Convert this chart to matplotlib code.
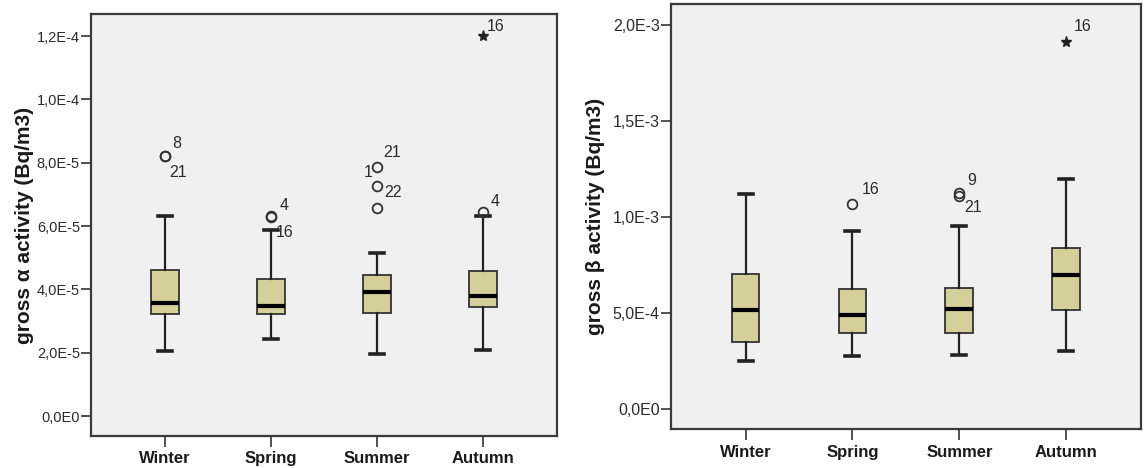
import matplotlib
matplotlib.use("Agg")
import matplotlib.pyplot as plt

plt.rcParams['font.family'] = ['Liberation Sans', 'DejaVu Sans']

# Data
seasons = ["Winter", "Spring", "Summer", "Autumn"]

# gross alpha activity (Bq/m3)
alpha_whislo = [2.04e-5, 2.43e-5, 1.97e-5, 2.10e-5]
alpha_q1 = [3.23e-5, 3.23e-5, 3.25e-5, 3.44e-5]
alpha_med = [3.56e-5, 3.48e-5, 3.91e-5, 3.79e-5]
alpha_q3 = [4.61e-5, 4.32e-5, 4.45e-5, 4.59e-5]
alpha_whishi = [6.31e-5, 5.87e-5, 5.14e-5, 6.31e-5]
alpha_outliers = [[8.23e-5, 8.21e-5], [6.31e-5, 6.28e-5], [7.86e-5, 7.27e-5, 6.58e-5], [6.44e-5]]
alpha_extremes = [[], [], [], [1.20e-4]]
alpha_labels = [(1, 8.23e-5, "8"), (1, 8.23e-5, "21"), (2, 6.31e-5, "4"), (2, 6.31e-5, "16"),
                (3, 7.86e-5, "1"), (3, 7.86e-5, "21"), (3, 7.27e-5, "22"), (4, 6.44e-5, "4"),
                (4, 1.20e-4, "16")]

# gross beta activity (Bq/m3)
beta_whislo = [2.53e-4, 2.78e-4, 2.81e-4, 3.02e-4]
beta_q1 = [3.51e-4, 3.98e-4, 3.98e-4, 5.15e-4]
beta_med = [5.15e-4, 4.91e-4, 5.20e-4, 7.00e-4]
beta_q3 = [7.07e-4, 6.25e-4, 6.34e-4, 8.40e-4]
beta_whishi = [1.12e-3, 9.31e-4, 9.55e-4, 1.198e-3]
beta_outliers = [[], [1.068e-3], [1.127e-3, 1.110e-3], []]
beta_extremes = [[], [], [], [1.913e-3]]
beta_labels = [(2, 1.068e-3, "16"), (3, 1.127e-3, "9"), (3, 1.110e-3, "21"), (4, 1.913e-3, "16")]

# label offsets (pixels) from the marked point
alpha_offsets = [(12, 12), (13, -17), (13, 11), (14, -16), (-9, -5), (15, 15), (16, -7), (12, 11), (13, 10)]
beta_offsets = [(18, 15), (12, 12), (14, -11), (16, 15)]

box_color = "#D5D09A"
edge = "#333333"
txt = "#2b2b2b"


def panel(ax, whislo, q1, med, q3, whishi, outliers, extremes, labels, offsets,
          ylim, ticks, ticklabels, ylabel, tfs, labx):
    stats = []
    for i in range(len(seasons)):
        stats.append(dict(whislo=whislo[i], q1=q1[i], med=med[i], q3=q3[i],
                          whishi=whishi[i], fliers=outliers[i]))
    pos = list(range(1, len(seasons) + 1))
    ax.bxp(stats, positions=pos, widths=0.26, capwidths=0.13, patch_artist=True,
           boxprops=dict(facecolor=box_color, edgecolor=edge, linewidth=1.3),
           medianprops=dict(color="black", linewidth=3),
           whiskerprops=dict(color="#222222", linewidth=1.6),
           capprops=dict(color="#222222", linewidth=2.6),
           flierprops=dict(marker="o", markerfacecolor="none", markeredgecolor=edge,
                           markersize=7, markeredgewidth=1.3))
    for i, ext in enumerate(extremes):
        if ext:
            ax.plot([pos[i]] * len(ext), ext, linestyle="none", marker="*",
                    color="#222222", markersize=8)
    for (c, v, t), (dx, dy) in zip(labels, offsets):
        ax.annotate(t, (c, v), xytext=(dx * 0.72, dy * 0.72), textcoords="offset points",
                    ha="center", va="center", fontsize=11.5, color=txt)
    ax.set_facecolor("#F0F0F0")
    ax.set_xlim(0.3, 4.7)
    ax.set_ylim(*ylim)
    ax.set_yticks(ticks)
    ax.set_yticklabels(ticklabels, fontsize=tfs, color=txt)
    ax.set_xticks(pos)
    ax.set_xticklabels(seasons, fontsize=12, fontweight="bold", color="#1a1a1a")
    ax.tick_params(axis="y", direction="out", length=7, width=1.2, color="#333333", pad=1)
    ax.tick_params(axis="x", direction="out", length=8, width=1.2, color="#333333", pad=3)
    for s in ax.spines.values():
        s.set_color("#3a3a3a")
        s.set_linewidth(1.6)
    ax.set_ylabel(ylabel, fontsize=15, fontweight="bold", color="#1a1a1a")
    ax.yaxis.set_label_coords(labx, 0.5)


fig = plt.figure(figsize=(11.45, 4.68), dpi=100)
ax1 = fig.add_axes([0.0795, 0.0684, 0.407, 0.9017])
ax2 = fig.add_axes([0.5858, 0.0827, 0.4107, 0.908])

panel(ax1, alpha_whislo, alpha_q1, alpha_med, alpha_q3, alpha_whishi, alpha_outliers,
      alpha_extremes, alpha_labels, alpha_offsets, (-6.3e-6, 1.27e-4),
      [0, 2e-5, 4e-5, 6e-5, 8e-5, 1e-4, 1.2e-4],
      ["0,0E0", "2,0E-5", "4,0E-5", "6,0E-5", "8,0E-5", "1,0E-4", "1,2E-4"],
      "gross α activity (Bq/m3)", 10.5, -0.122)

panel(ax2, beta_whislo, beta_q1, beta_med, beta_q3, beta_whishi, beta_outliers,
      beta_extremes, beta_labels, beta_offsets, (-1.04e-4, 2.109e-3),
      [0, 5e-4, 1e-3, 1.5e-3, 2e-3],
      ["0,0E0", "5,0E-4", "1,0E-3", "1,5E-3", "2,0E-3"],
      "gross β activity (Bq/m3)", 11.5, -0.14)

fig.savefig("out.png", dpi=100)
